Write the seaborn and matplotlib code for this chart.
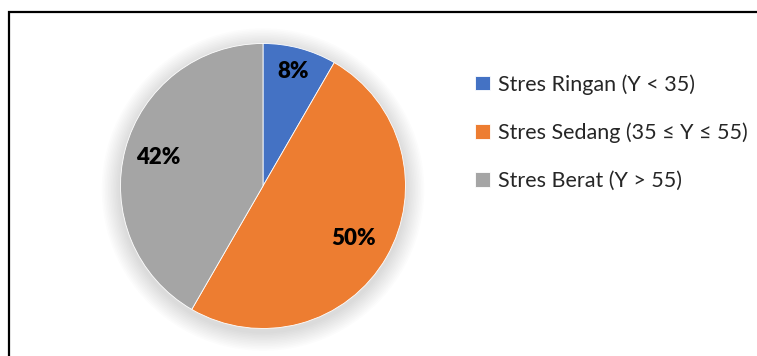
import numpy as np
import matplotlib
matplotlib.use("Agg")
import matplotlib.pyplot as plt
from matplotlib.patches import Circle, Rectangle
import seaborn as sns

categories = ["Stres Ringan (Y < 35)", "Stres Sedang (35 ≤ Y ≤ 55)", "Stres Berat (Y > 55)"]
counts = [2, 12, 10]
colors = ["#4472C4", "#ED7D31", "#A5A5A5"]
label_radius = [0.83, 0.73, 0.76]

sns.set_theme(style="white")
plt.rcParams['font.family'] = ['Lato', 'DejaVu Sans']

W, H = 757, 356
fig = plt.figure(figsize=(W / 100, H / 100), dpi=100)
fig.patch.set_facecolor("white")

# frame (only left and top edges visible)
fig.patches.append(Rectangle((9 / W, -0.1), 1.2, (H - 12) / H + 0.1, transform=fig.transFigure,
                             fill=False, edgecolor="black", lw=1.6, zorder=0))

cx, cy, R = 263, H - 186, 142.5
size = 380
lim = size / 2 / R
ax = fig.add_axes([(cx - size / 2) / W, (cy - size / 2) / H, size / W, size / H])
ax.axis("off")

# soft shadow
for i in range(12):
    r = 1.0 + 0.011 * (i + 1)
    ax.add_patch(Circle((0, -0.025), r, color="black", alpha=0.011, lw=0, zorder=0))

wedges, texts, autotexts = ax.pie(counts, colors=colors, startangle=90, counterclock=False,
                                  autopct=lambda p: f"{p:.0f}%", radius=1.0,
                                  wedgeprops=dict(lw=0.6, edgecolor="white"),
                                  textprops=dict(fontsize=16, fontweight="heavy", color="black"))
for w, t, rr in zip(wedges, autotexts, label_radius):
    mid = np.deg2rad((w.theta1 + w.theta2) / 2)
    t.set_position((rr * np.cos(mid), rr * np.sin(mid)))
ax.set_xlim(-lim, lim)
ax.set_ylim(-lim, lim)

fig.legend(wedges, categories, loc="upper left", bbox_to_anchor=(475 / W, (H - 74) / H),
           frameon=False, fontsize=15.5, handlelength=0.68, handleheight=0.68,
           handletextpad=0.4, labelspacing=1.3, borderpad=0, borderaxespad=0)

fig.savefig("out.png", dpi=100, facecolor="white")
